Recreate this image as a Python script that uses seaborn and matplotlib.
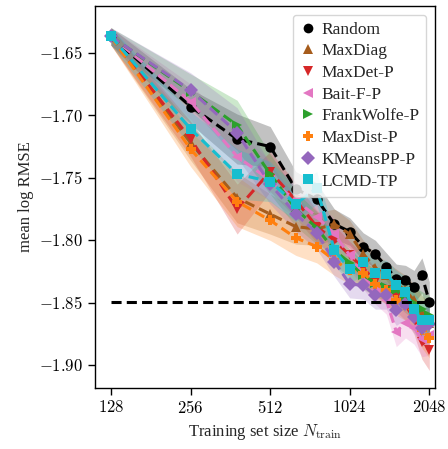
import matplotlib
matplotlib.use("Agg")
import matplotlib.pyplot as plt
from matplotlib.lines import Line2D
import seaborn as sns
import pandas as pd
import numpy as np

# training set sizes (shared by every method)
n_train = [128, 256, 384, 512, 640, 768, 896, 1024, 1152, 1280, 1408, 1536, 1664, 1792, 1920, 2048]

methods = ["Random", "MaxDiag", "MaxDet-P", "Bait-F-P", "FrankWolfe-P",
           "MaxDist-P", "KMeansPP-P", "LCMD-TP"]

random_vals = [-1.637, -1.693, -1.719, -1.725, -1.759, -1.767, -1.787, -1.793,
               -1.805, -1.811, -1.821, -1.831, -1.832, -1.837, -1.828, -1.849]
maxdiag_vals = [-1.637, -1.722, -1.766, -1.779, -1.789, -1.791, -1.787, -1.795,
                -1.811, -1.822, -1.828, -1.835, -1.840, -1.848, -1.858, -1.866]
maxdet_vals = [-1.637, -1.719, -1.775, -1.745, -1.768, -1.789, -1.800, -1.812,
               -1.822, -1.833, -1.840, -1.845, -1.852, -1.862, -1.881, -1.888]
bait_vals = [-1.637, -1.689, -1.733, -1.752, -1.768, -1.781, -1.795, -1.812,
             -1.828, -1.840, -1.848, -1.873, -1.866, -1.870, -1.879, -1.876]
frankwolfe_vals = [-1.637, -1.681, -1.708, -1.747, -1.775, -1.790, -1.808, -1.818,
                   -1.828, -1.834, -1.837, -1.840, -1.846, -1.850, -1.855, -1.860]
maxdist_vals = [-1.637, -1.727, -1.769, -1.784, -1.798, -1.805, -1.816, -1.824,
                -1.826, -1.835, -1.840, -1.848, -1.852, -1.858, -1.872, -1.878]
kmeans_vals = [-1.637, -1.680, -1.714, -1.755, -1.779, -1.794, -1.817, -1.835,
               -1.836, -1.844, -1.844, -1.856, -1.851, -1.861, -1.870, -1.867]
lcmd_vals = [-1.637, -1.711, -1.747, -1.753, -1.771, -1.758, -1.808, -1.823,
             -1.817, -1.826, -1.827, -1.836, -1.841, -1.855, -1.864, -1.864]

# half width of the shaded uncertainty band at each training size
band_halfwidth = [0.007, 0.014, 0.020, 0.016, 0.014, 0.013, 0.012, 0.011,
                  0.011, 0.011, 0.011, 0.012, 0.012, 0.013, 0.014, 0.016]

reference_level = -1.849

colors = {
    "Random": "#000000",
    "MaxDiag": "#a65c1c",
    "MaxDet-P": "#d62728",
    "Bait-F-P": "#e377c2",
    "FrankWolfe-P": "#2ca02c",
    "MaxDist-P": "#ff7f0e",
    "KMeansPP-P": "#9467bd",
    "LCMD-TP": "#17becf",
}
markers = {
    "Random": "o",
    "MaxDiag": "^",
    "MaxDet-P": "v",
    "Bait-F-P": "<",
    "FrankWolfe-P": ">",
    "MaxDist-P": "P",
    "KMeansPP-P": "D",
    "LCMD-TP": "s",
}

series = [random_vals, maxdiag_vals, maxdet_vals, bait_vals, frankwolfe_vals,
          maxdist_vals, kmeans_vals, lcmd_vals]
df = pd.concat(
    [pd.DataFrame({"N": n_train, "rmse": vals, "method": m}) for m, vals in zip(methods, series)],
    ignore_index=True,
)

sns.set_style("ticks")
plt.rcParams["font.family"] = ["Liberation Serif", "DejaVu Serif"]
plt.rcParams["mathtext.fontset"] = "cm"
plt.rcParams["axes.edgecolor"] = "black"
plt.rcParams["xtick.color"] = "black"
plt.rcParams["ytick.color"] = "black"

fig = plt.figure(figsize=(4.48, 4.49), dpi=100)
ax = fig.add_axes([0.212, 0.136, 0.759, 0.851])

# shaded bands
for m, vals in zip(methods, series):
    v = np.array(vals)
    w = np.array(band_halfwidth)
    ax.fill_between(n_train, v - w, v + w, color=colors[m], alpha=0.24, linewidth=0)

sns.lineplot(
    data=df, x="N", y="rmse", hue="method", style="method",
    hue_order=methods, style_order=methods,
    palette=colors, markers=markers,
    dashes={m: (3.3, 1.7) for m in methods},
    markersize=7.5, markeredgewidth=0, linewidth=2.2,
    errorbar=None, legend=False, ax=ax,
)

ax.hlines(reference_level, n_train[0], n_train[-1], colors="black",
          linestyles=(0, (3.3, 1.7)), linewidth=2.2)

ax.set_xscale("log", base=2)
ax.set_xlim(111.3, 2152)
ax.set_ylim(-1.918, -1.6125)

xticks = [128, 256, 512, 1024, 2048]
ax.set_xticks(xticks)
ax.set_xticklabels([f"${t}$" for t in xticks])
ax.xaxis.set_minor_locator(matplotlib.ticker.NullLocator())
yticks = [-1.65, -1.70, -1.75, -1.80, -1.85, -1.90]
ax.set_yticks(yticks)
ax.set_yticklabels([f"${t:.2f}$" for t in yticks])
ax.tick_params(labelsize=12, length=5, width=1)
for sp in ax.spines.values():
    sp.set_linewidth(1.0)

ax.set_xlabel(r"Training set size $N_{\mathrm{train}}$", fontsize=12)
ax.set_ylabel("mean log RMSE", fontsize=12)

handles = [Line2D([], [], linestyle="none", marker=markers[m], color=colors[m],
                  markersize=7, markeredgewidth=0) for m in methods]
ax.legend(handles, methods, loc="upper right", fontsize=12.5, handletextpad=0.25,
          handlelength=1.0, labelspacing=0.32, borderpad=0.4,
          borderaxespad=0.5, framealpha=0.8, fancybox=True)

fig.savefig("out.png", dpi=100)
